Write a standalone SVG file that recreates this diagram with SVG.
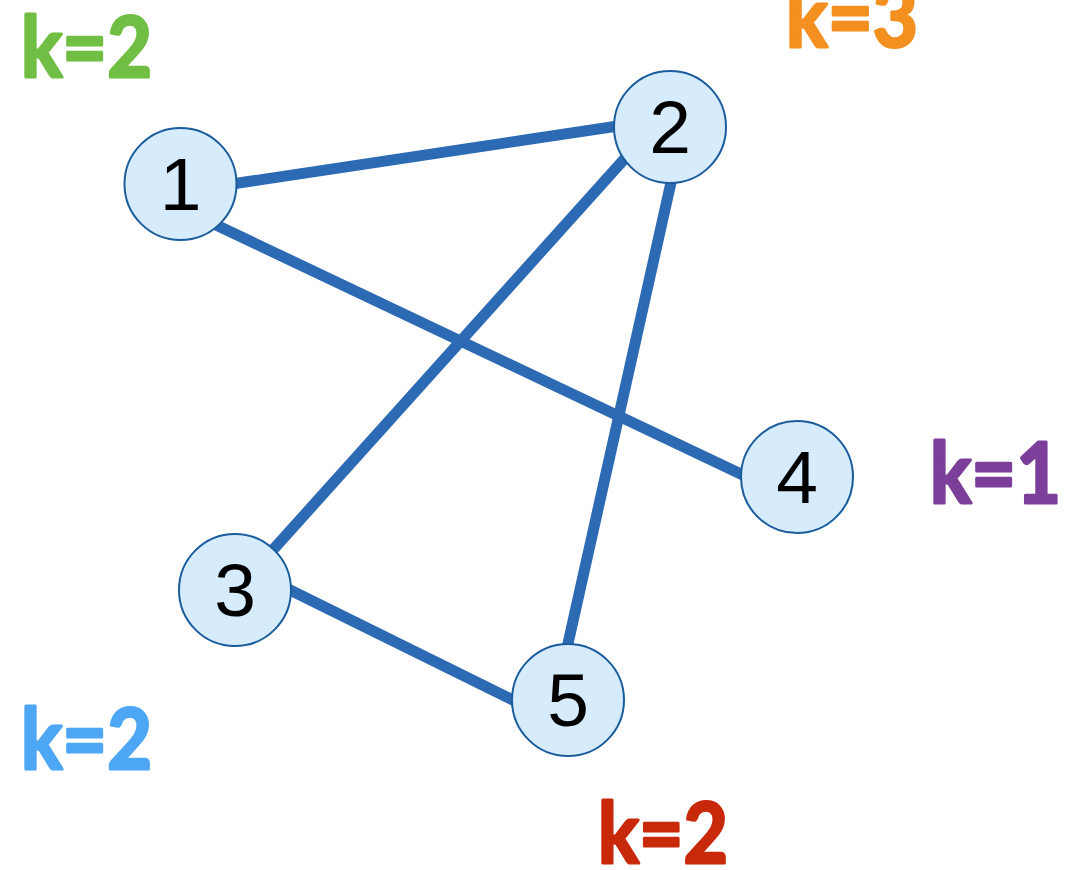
<svg xmlns="http://www.w3.org/2000/svg" width="1069" height="870" viewBox="0 0 1069 870">
<style>
.edge{stroke:#2D6AB4;stroke-width:11;stroke-linecap:butt;fill:none}
.node circle{fill:#D6EBFC;stroke:#1A5C9C;stroke-width:2}
.node text{font-family:"Liberation Sans",Arial,sans-serif;font-size:75px;fill:#000;text-anchor:middle}
.k{font-family:Lato,"Open Sans",sans-serif;font-weight:bold;font-size:85px;stroke-width:3;stroke-linejoin:round}
</style>
<rect width="1069" height="870" fill="#fff"/>
<g id="connectors">
<line class="edge" x1="232" y1="184" x2="618" y2="126"/>
<line class="edge" x1="214" y1="224" x2="745" y2="476"/>
<line class="edge" x1="628" y1="155" x2="271" y2="552"/>
<line class="edge" x1="672" y1="178" x2="567" y2="648"/>
<line class="edge" x1="286" y1="588" x2="515" y2="701"/>
</g>
<g id="node1" class="node"><circle cx="180.5" cy="184" r="56"/><text x="180.5" y="210">1</text></g>
<g id="node2" class="node"><circle cx="670" cy="127" r="56"/><text x="670" y="153">2</text></g>
<g id="node3" class="node"><circle cx="235" cy="590" r="56"/><text x="235" y="616">3</text></g>
<g id="node4" class="node"><circle cx="797" cy="477" r="56"/><text x="797" y="503">4</text></g>
<g id="node5" class="node"><circle cx="568" cy="700" r="56"/><text x="568" y="726">5</text></g>
<g id="labels">
<text class="k" x="21" y="77" fill="#70BF44" stroke="#70BF44" textLength="131" lengthAdjust="spacingAndGlyphs">k=2</text>
<text class="k" x="786" y="47" fill="#F39020" stroke="#F39020" textLength="132" lengthAdjust="spacingAndGlyphs">k=3</text>
<text class="k" x="930" y="503" fill="#7B3F9A" stroke="#7B3F9A" textLength="131" lengthAdjust="spacingAndGlyphs">k=1</text>
<text class="k" x="21" y="769" fill="#4EA7F5" stroke="#4EA7F5" textLength="131" lengthAdjust="spacingAndGlyphs">k=2</text>
<text class="k" x="598" y="863" fill="#C8290A" stroke="#C8290A" textLength="130" lengthAdjust="spacingAndGlyphs">k=2</text>
</g>
</svg>
